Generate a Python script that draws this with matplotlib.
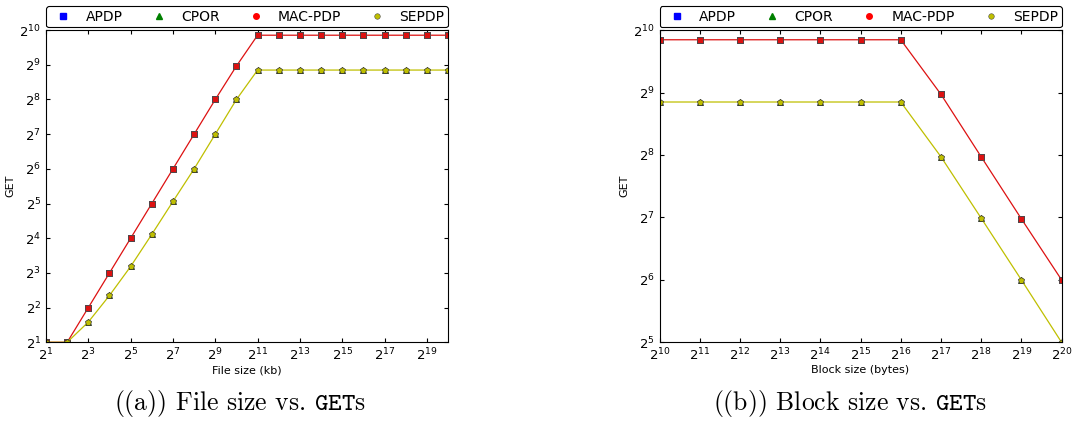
import matplotlib.pyplot as plt
from matplotlib.lines import Line2D

plt.rcParams['font.family'] = 'DejaVu Sans'
plt.rcParams['mathtext.fontset'] = 'cm'
plt.rcParams['xtick.direction'] = 'in'
plt.rcParams['ytick.direction'] = 'in'
plt.rcParams['xtick.top'] = True
plt.rcParams['ytick.right'] = True
plt.rcParams['xtick.major.size'] = 3
plt.rcParams['ytick.major.size'] = 3

# File size experiment (kb) -> number of GETs
file_sizes = [2 ** e for e in range(1, 21)]
mac_file = [2, 2, 4, 8, 16, 32, 64, 128, 256, 500,
            925, 925, 925, 925, 925, 925, 925, 925, 925, 925]
sep_file = [2, 2, 3, 5.1, 9.1, 17.3, 33.4, 64, 128, 256,
            461, 461, 461, 461, 461, 461, 461, 461, 461, 461]

# Block size experiment (bytes) -> number of GETs
block_sizes = [2 ** e for e in range(10, 21)]
mac_block = [920, 920, 920, 920, 920, 920, 920, 502, 251, 126, 64]
sep_block = [461, 461, 461, 461, 461, 461, 461, 251, 127, 64, 32]

names = ['APDP', 'CPOR', 'MAC-PDP', 'SEPDP']


def draw(ax, x, mac, sep):
    # APDP and CPOR give the same counts as MAC-PDP / SEPDP and end up underneath
    ax.plot(x, mac, ls='none', color='b', marker='s', ms=5, mec='k', mew=0.5)
    ax.plot(x, sep, ls='none', color='g', marker='^', ms=4, mec='k', mew=0.5)
    ax.plot(x, mac, color='#dd1111', marker='s', ms=5, lw=0.9, mec='0.3', mew=0.6)
    ax.plot(x, sep, color='y', marker='p', ms=5, lw=0.9, mec='0.2', mew=0.5)
    ax.set_xscale('log', base=2)
    ax.set_yscale('log', base=2)
    ax.set_ylabel('GET', fontsize=8)
    ax.yaxis.set_label_coords(-0.076, 0.5)
    ax.tick_params(labelsize=9.5)
    handles = [Line2D([], [], ls='none', marker='s', color='b', ms=4),
               Line2D([], [], ls='none', marker='^', color='g', ms=4),
               Line2D([], [], ls='none', marker='o', color='r', ms=4),
               Line2D([], [], ls='none', marker='o', color='y', ms=4, mec='0.3', mew=0.4)]
    leg = ax.legend(handles, names, loc='lower left', ncol=4, mode='expand',
                    bbox_to_anchor=(0, 1.009, 1, 0.072), borderaxespad=0,
                    fontsize=10, numpoints=1, handletextpad=0.6,
                    fancybox=True, framealpha=1, edgecolor='k', borderpad=0.25)
    leg.get_frame().set_linewidth(0.8)


fig = plt.figure(figsize=(10.75, 4.23), dpi=100)
ax1 = fig.add_axes([0.0428, 0.1908, 0.374, 0.738])
ax2 = fig.add_axes([0.6135, 0.1908, 0.374, 0.738])

draw(ax1, file_sizes, mac_file, sep_file)
ax1.set_xlim(2 ** 1, 2 ** 20)
ax1.set_ylim(2 ** 1, 2 ** 10)
ax1.set_xticks([2 ** e for e in range(1, 20, 2)])
ax1.set_yticks([2 ** e for e in range(1, 11)])
ax1.set_xlabel('File size (kb)', fontsize=8, labelpad=1)

draw(ax2, block_sizes, mac_block, sep_block)
ax2.set_xlim(2 ** 10, 2 ** 20)
ax2.set_ylim(2 ** 5, 2 ** 10)
ax2.set_xticks([2 ** e for e in range(10, 21)])
ax2.set_yticks([2 ** e for e in range(5, 11)])
ax2.set_xlabel('Block size (bytes)', fontsize=8, labelpad=1)

fig.text(0.2233, 0.03, r'((a)) File size vs. $\mathtt{GET}$s', family='cmr10', fontsize=18.5, ha='center')
fig.text(0.791, 0.03, r'((b)) Block size vs. $\mathtt{GET}$s', family='cmr10', fontsize=18.5, ha='center')

fig.savefig('out.png', dpi=100, facecolor='white')
